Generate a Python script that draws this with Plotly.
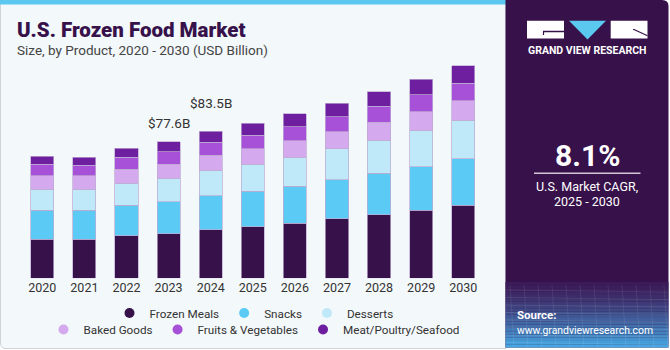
import plotly.graph_objects as go

W, H = 670, 350

years = ["2020", "2021", "2022", "2023", "2024", "2025", "2026", "2027", "2028", "2029", "2030"]
frozen_meals = [22.3, 22.3, 24.2, 25.4, 27.6, 29.3, 31.4, 33.7, 36.1, 38.8, 41.5]
snacks = [16.5, 16.5, 17.4, 18.0, 19.3, 20.1, 21.0, 22.2, 23.5, 24.6, 26.3]
desserts = [11.9, 11.9, 12.5, 13.5, 14.5, 15.3, 16.5, 17.8, 18.9, 20.7, 22.0]
baked_goods = [7.6, 7.6, 8.0, 8.0, 8.6, 8.9, 9.3, 9.7, 10.1, 10.4, 11.0]
fruits_veg = [6.5, 5.9, 6.6, 7.0, 7.4, 7.6, 8.0, 8.4, 9.1, 9.7, 10.1]
meat = [4.5, 4.7, 5.1, 5.7, 6.1, 6.8, 7.2, 7.8, 8.3, 8.9, 9.8]

series_names = ["Frozen Meals", "Snacks", "Desserts", "Baked Goods", "Fruits & Vegetables", "Meat/Poultry/Seafood"]
series_values = [frozen_meals, snacks, desserts, baked_goods, fruits_veg, meat]
colors = ["#37114a", "#5bcbf5", "#bfe9f9", "#d5a9ed", "#a651d8", "#6d1f9f"]

label_years = ["2023", "2024"]
label_texts = ["$77.6B", "$83.5B"]
label_shift = [9, 18]

FONT = "Roboto"


def px(x):
    return x / W


def py(y):
    return 1 - y / H


xpos = list(range(len(years)))

fig = go.Figure()

for name, vals, col in zip(series_names, series_values, colors):
    fig.add_trace(go.Bar(
        x=xpos, y=vals, name=name, width=0.55,
        marker=dict(color=col, line=dict(color="rgba(190,170,210,0.9)", width=0.8)),
        showlegend=False, hoverinfo="skip"))

for i, (name, col) in enumerate(zip(series_names, colors)):
    fig.add_trace(go.Scatter(
        x=[-10], y=[-10], mode="markers", name=name,
        marker=dict(color=col, size=10, symbol="circle"),
        legend="legend" if i < 3 else "legend2", hoverinfo="skip"))

totals = [sum(v) for v in zip(*series_values)]

shapes = []
# chart panel background + border
shapes.append(dict(type="path", xref="paper", yref="paper",
                   path=f"M {px(0.5)},{py(0)} L {px(506)},{py(0)} L {px(506)},{py(348.5)} L {px(6)},{py(348.5)} Q {px(0.5)},{py(348.5)} {px(0.5)},{py(343)} Z",
                   fillcolor="#f3f8fb", line=dict(color="#cfd3d7", width=1), layer="below"))
# blue top strip
shapes.append(dict(type="rect", xref="paper", yref="paper", x0=px(0), x1=px(506), y0=py(0), y1=py(4.5),
                   fillcolor="#5bc8f0", line=dict(width=0), layer="below"))
# right dark panel
shapes.append(dict(type="path", xref="paper", yref="paper",
                   path=f"M {px(505.5)},{py(0)} L {px(662)},{py(0)} Q {px(668.5)},{py(0)} {px(668.5)},{py(6)} L {px(668.5)},{py(347.5)} L {px(505.5)},{py(347.5)} Z",
                   fillcolor="#37114a", line=dict(width=0), layer="below"))

# gradient at bottom of dark panel
def hex2rgb(h):
    h = h.lstrip("#")
    return [int(h[i:i + 2], 16) for i in (0, 2, 4)]

c0 = hex2rgb("#3b1b58")
c1 = hex2rgb("#45a6e2")
n = 20
y_start, y_end = 282, 347.5
for k in range(n):
    t = k / (n - 1)
    t2 = t ** 1.3
    c = [round(c0[j] + (c1[j] - c0[j]) * t2) for j in range(3)]
    ya = y_start + (y_end - y_start) * k / n
    yb = y_start + (y_end - y_start) * (k + 1) / n
    shapes.append(dict(type="rect", xref="paper", yref="paper", x0=px(505.5), x1=px(668.5), y0=py(ya), y1=py(yb),
                       fillcolor=f"rgb({c[0]},{c[1]},{c[2]})", line=dict(width=0), layer="below"))

# faint grid lines in gradient
for k in range(8):
    yy = 290 + k * 7.5
    shapes.append(dict(type="line", xref="paper", yref="paper", x0=px(505.5), x1=px(668.5), y0=py(yy), y1=py(yy + 2),
                       line=dict(color="rgba(255,255,255,0.12)", width=0.8), layer="below"))
for k in range(12):
    xx = 510 + k * 14
    shapes.append(dict(type="line", xref="paper", yref="paper", x0=px(xx), x1=px(xx + 4), y0=py(285), y1=py(347),
                       line=dict(color="rgba(255,255,255,0.10)", width=0.8), layer="below"))

# logo
shapes.append(dict(type="rect", xref="paper", yref="paper", x0=px(527), x1=px(564), y0=py(20.7), y1=py(38.5),
                   fillcolor="white", line=dict(width=0)))
shapes.append(dict(type="line", xref="paper", yref="paper", x0=px(543), x1=px(564), y0=py(31.5), y1=py(31.5),
                   line=dict(color="#37114a", width=1.5)))
shapes.append(dict(type="line", xref="paper", yref="paper", x0=px(543.5), x1=px(543.5), y0=py(31.5), y1=py(35),
                   line=dict(color="#37114a", width=1.2)))
shapes.append(dict(type="path", xref="paper", yref="paper",
                   path=f"M {px(569)},{py(20.7)} L {px(606)},{py(20.7)} L {px(587.5)},{py(39.5)} Z",
                   fillcolor="#5bc8f0", line=dict(width=0)))
shapes.append(dict(type="rect", xref="paper", yref="paper", x0=px(610.7), x1=px(647.5), y0=py(20.7), y1=py(38.5),
                   fillcolor="white", line=dict(width=0)))
shapes.append(dict(type="line", xref="paper", yref="paper", x0=px(634), x1=px(647.5), y0=py(29.5), y1=py(35.8),
                   line=dict(color="#37114a", width=1.2)))
shapes.append(dict(type="line", xref="paper", yref="paper", x0=px(633), x1=px(634), y0=py(29.5), y1=py(29.5),
                   line=dict(color="#37114a", width=1.2)))
# CAGR separator line
shapes.append(dict(type="line", xref="paper", yref="paper", x0=px(534), x1=px(640.5), y0=py(173.3), y1=py(173.3),
                   line=dict(color="#cfc7d6", width=1.5)))

annotations = []


def txt(text, x, y, size, color, xanchor="left", bold=False, family=FONT, weight=None):
    w = weight if weight is not None else ("bold" if bold else "normal")
    annotations.append(dict(text=text, x=px(x), y=py(y), xref="paper", yref="paper", showarrow=False,
                            xanchor=xanchor, yanchor="middle",
                            font=dict(size=size, color=color, family=family, weight=w)))


txt("U.S. Frozen Food Market", 15, 29.5, 20.5, "#37114a", weight=900)
txt("Size, by Product, 2020 - 2030 (USD Billion)", 15, 50, 13.5, "#444444")
txt("GRAND VIEW RESEARCH", 587, 50.7, 10.5, "white", xanchor="center", bold=True)
txt("8.1%", 587, 155, 30, "white", xanchor="center", bold=True)
txt("U.S. Market CAGR,", 587, 186, 12.5, "white", xanchor="center")
txt("2025 - 2030", 587, 201, 12.5, "white", xanchor="center")
txt("Source:", 515, 315, 11.5, "white", bold=True)
txt("www.grandviewresearch.com", 515, 330.5, 10.4, "white")

for yr, lt, sh in zip(label_years, label_texts, label_shift):
    i = years.index(yr)
    annotations.append(dict(text=lt, x=xpos[i], y=totals[i], xref="x", yref="y", showarrow=False,
                            yanchor="bottom", yshift=sh, font=dict(size=13.5, color="#333333", family=FONT)))

plot_top, plot_bottom = 60, 278.3
px_per_unit = 1.76
ymax = (plot_bottom - plot_top) / px_per_unit

fig.update_layout(
    width=W, height=H,
    margin=dict(l=0, r=0, t=0, b=0),
    paper_bgcolor="white", plot_bgcolor="rgba(0,0,0,0)",
    barmode="stack",
    font=dict(family=FONT, color="#333333"),
    xaxis=dict(type="linear", range=[-0.5, len(years) - 0.5], tickmode="array", tickvals=xpos, ticktext=years,
               domain=[px(21.25), px(484.3)], showgrid=False, zeroline=False, showline=False,
               ticks="", tickfont=dict(size=12.5, color="#333333", family=FONT), fixedrange=True),
    yaxis=dict(domain=[py(plot_bottom), py(plot_top)], range=[0, ymax], visible=False, fixedrange=True),
    legend=dict(orientation="h", x=px(254), xanchor="center", y=py(313), yanchor="middle", traceorder="normal",
                bgcolor="rgba(0,0,0,0)", font=dict(size=11.7, color="#333333", family=FONT), itemwidth=30),
    legend2=dict(orientation="h", x=px(254), xanchor="center", y=py(329.5), yanchor="middle", traceorder="normal",
                 bgcolor="rgba(0,0,0,0)", font=dict(size=11.7, color="#333333", family=FONT), itemwidth=30),
    shapes=shapes,
    annotations=annotations,
    showlegend=True,
)

fig.write_html("out.html")
